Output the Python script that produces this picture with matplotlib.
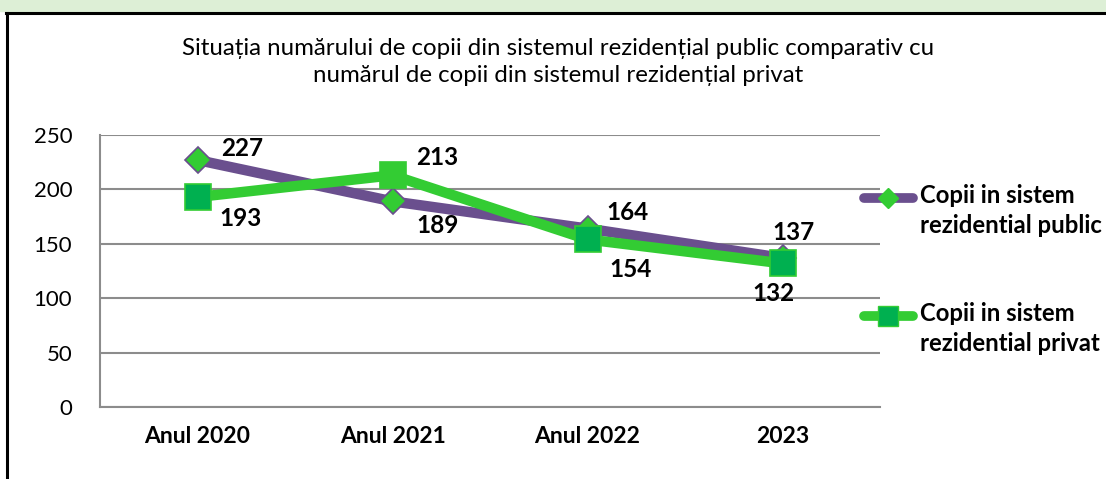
import matplotlib.pyplot as plt
import matplotlib.patches as mpatches
from matplotlib.lines import Line2D

# Date
categorii = ["Anul 2020", "Anul 2021", "Anul 2022", "2023"]
public = [227, 189, 164, 137]
privat = [193, 213, 154, 132]
nume_public = "Copii in sistem\nrezidential public"
nume_privat = "Copii in sistem\nrezidential privat"
titlu = ("Situația numărului de copii din sistemul rezidențial public comparativ cu\n"
         "numărul de copii din sistemul rezidențial privat")

plt.rcParams['font.family'] = ['Lato', 'DejaVu Sans']

W, H = 1106, 479
fig = plt.figure(figsize=(W / 100, H / 100), dpi=100)

def fx(px):
    return px / W

def fy(py):
    return 1 - py / H

# banda verde sus si chenarul negru
fig.patches.append(mpatches.Rectangle((0, fy(11)), 1, 11 / H, transform=fig.transFigure,
                                      color="#DDEFD6", zorder=0))
fig.lines.append(Line2D([fx(6), 1], [fy(13), fy(13)], transform=fig.transFigure,
                        color="black", lw=2.2))
fig.lines.append(Line2D([fx(7), fx(7)], [0, fy(13)], transform=fig.transFigure,
                        color="black", lw=2.2))

ax = fig.add_axes([fx(100), fy(407), 780 / W, 272 / H])
x = list(range(len(categorii)))

ax.plot(x, public, color="#6A4F8E", lw=7.5, solid_capstyle="round", zorder=3,
        marker="D", ms=13, mfc="#33CC33", mec="#6A4F8E", mew=1.2)
ax.plot(x, privat, color="#33CC33", lw=7.5, solid_capstyle="round", zorder=4)
sq_colors = ["#00B050", "#33CC33", "#00B050", "#00B050"]
for xi, v, c in zip(x, privat, sq_colors):
    ax.plot([xi], [v], marker="s", ms=19, mfc=c, mec="#33CC33", mew=1.2, zorder=5)

off_pub = [(45, 12), (45, -24), (40, 16), (11, 25)]
off_priv = [(43, -21), (45, 18), (43, -30), (-9, -30)]
for xi, v, o in zip(x, public, off_pub):
    ax.annotate(str(v), (xi, v), xytext=o, textcoords="offset pixels", ha="center", va="center",
                fontsize=17.5, fontweight="bold", zorder=6)
for xi, v, o in zip(x, privat, off_priv):
    ax.annotate(str(v), (xi, v), xytext=o, textcoords="offset pixels", ha="center", va="center",
                fontsize=17.5, fontweight="bold", zorder=6)

ax.set_xlim(-0.5, 3.5)
ax.set_ylim(0, 250)
ax.set_yticks(range(0, 251, 50))
ax.set_xticks(x)
ax.set_xticklabels(categorii, fontsize=16.5, fontweight="bold")
ax.tick_params(axis="y", labelsize=16, length=0, pad=20)
ax.tick_params(axis="x", length=0, pad=14)
ax.grid(axis="y", color="#8C8C8C", lw=1.5)
ax.set_axisbelow(True)
for s in ["top", "right"]:
    ax.spines[s].set_visible(False)
for s in ["left", "bottom"]:
    ax.spines[s].set_color("#8C8C8C")
    ax.spines[s].set_linewidth(1.5)

fig.text(fx(558), fy(62), titlu, ha="center", va="center", fontsize=17.3,
         linespacing=1.3)

# legenda desenata manual
leg = [
    (198, nume_public, "#6A4F8E", "D", 10, "#33CC33"),
    (316, nume_privat, "#33CC33", "s", 14, "#00B050"),
]
for py, txt, col, mk, ms, mfc in leg:
    fig.lines.append(Line2D([fx(864), fx(913)], [fy(py), fy(py)], transform=fig.transFigure,
                            color=col, lw=7, solid_capstyle="round"))
    fig.lines.append(Line2D([fx(888)], [fy(py)], transform=fig.transFigure, marker=mk,
                            ms=ms, mfc=mfc, mec="#33CC33", mew=1))
    fig.text(fx(920), fy(py - 14), txt, ha="left", va="top", fontsize=17.2,
             fontweight="bold", linespacing=1.35)

fig.savefig("out.png", dpi=100)
